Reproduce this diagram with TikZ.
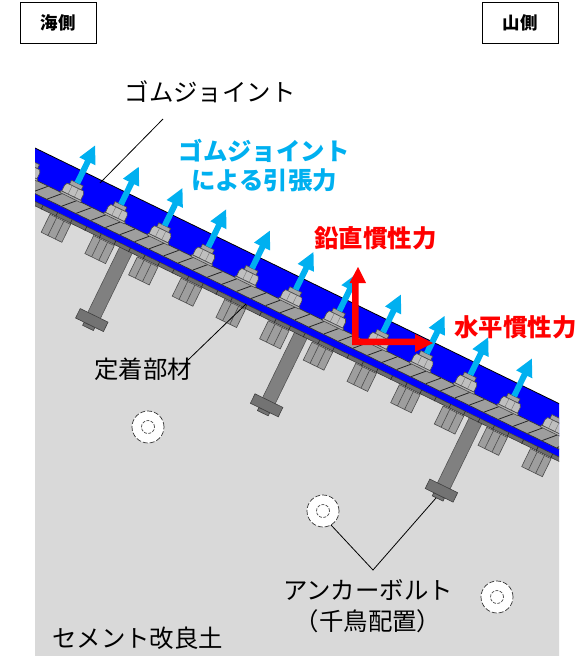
\documentclass[tikz,border=0pt]{standalone}
\usepackage{fontspec}
\setmainfont{Noto Sans CJK JP}
\usetikzlibrary{arrows.meta}
\definecolor{cyanarrow}{HTML}{00B0F0}
\definecolor{soil}{HTML}{D9D9D9}
\tikzset{
  bigtext/.style={font=\fontsize{24.4}{28}\selectfont,inner sep=0pt,text=black,align=center},
  boldcyan/.style={font=\bfseries\fontsize{24.4}{29}\selectfont,inner sep=0pt,text=cyanarrow,align=center},
  boldred/.style={font=\bfseries\fontsize{24.4}{29}\selectfont,inner sep=0pt,text=red},
  sidebox/.style={draw=black,line width=1pt,fill=white,minimum width=76pt,minimum height=41pt,inner sep=0pt,font=\bfseries\fontsize{17.5}{20}\selectfont},
  leader/.style={draw=black,line width=0.8pt},
  steel/.style={draw=black!70,line width=0.6pt,fill=black!38},
  shaft/.style={draw=black!70,line width=0.5pt,fill=black!50},
  headplate/.style={draw=black!75,line width=0.6pt,fill=black!55},
  hole/.style={draw=black!80,line width=0.7pt,dash pattern=on 5pt off 2pt,fill=white}
}
\begin{document}
\begin{tikzpicture}[x=1pt,y=-1pt]
\useasboundingbox (0,0) rectangle (584,656);
\begin{scope}
\clip (35,0) rectangle (559,656);
\begin{scope}[shift={(35,148)},rotate=-26]
  % soil
  \fill[soil] (-100,50) rectangle (900,800);
  % headed studs under the plate
  \foreach \k in {0,...,11}{
    \pgfmathsetmacro{\s}{54+48.6*\k}
    \begin{scope}[shift={(\s,0)}]
      \draw[steel] (-11.5,53) rectangle (11.5,73);
      \draw[draw=black!70,line width=0.6pt] (-4,53) -- (-4,73) (4,53) -- (4,73);
    \end{scope}
  }
  % anchor bolts
  \foreach \s in {126.5,321,515.5}{
    \begin{scope}[shift={(\s,0)}]
      \draw[shaft] (-7,50) rectangle (7,125);
      \draw[headplate] (-6,135) rectangle (6,138.5);
      \draw[headplate] (-15.5,124.5) rectangle (15.5,135);
    \end{scope}
  }
  % blue covers
  \fill[blue] (-100,0) rectangle (900,30);
  \draw[black,line width=0.8pt] (-100,0) -- (900,0);
  \fill[blue] (-100,40) rectangle (900,48);
  % base plate
  \draw[draw=black!80,line width=0.5pt,fill=black!58] (-100,48) rectangle (900,52);
  \foreach \i in {-8,...,70}{
    \draw[black!85,line width=0.6pt] ({\i*16.2},48) -- ({\i*16.2},52.5);
  }
  % rubber joint band
  \draw[draw=black!80,line width=0.7pt,fill=black!38] (-100,28.5) rectangle (900,41);
  \foreach \i in {-4,...,46}{
    \draw[black!85,line width=0.8pt] ({\i*16.2+1},40.5) -- ({\i*16.2+12},29);
  }
  % nuts
  \foreach \k in {-1,...,11}{
    \pgfmathsetmacro{\s}{53.4+48.6*\k}
    \begin{scope}[shift={(\s,0)}]
      \draw[steel,fill=black!35] (-6.5,13) rectangle (6.5,17.5);
      \draw[steel,fill=black!25] (-9,17.5) -- (9,17.5) -- (10.5,20.5) -- (10.5,27) -- (-10.5,27) -- (-10.5,20.5) -- cycle;
      \draw[black!55,line width=0.4pt] (-3.5,17.5) -- (-3.5,27) (3.5,17.5) -- (3.5,27);
      \draw[steel,fill=black!30] (-11.5,27) rectangle (11.5,29);
    \end{scope}
  }
  % tensile arrows
  \foreach \k in {0,...,10}{
    \pgfmathsetmacro{\s}{53.4+48.6*\k}
    \fill[cyanarrow,shift={(\s,0)}] (-3,13) -- (-3,-11) -- (-9.5,-11) -- (-0.5,-28.5) -- (8.5,-11) -- (3,-11) -- (3,13) -- cycle;
  }
\end{scope}
\end{scope}
% anchor holes
\foreach \n/\x/\y in {a/148/427,b/323/511,c/497/597}{
  \node[hole,circle,minimum size=32pt,inner sep=0pt] (hole\n) at (\x,\y) {};
  \node[hole,circle,minimum size=13pt,inner sep=0pt,dash pattern=on 3pt off 1.4pt,draw=black!70] (inner\n) at (\x,\y) {};
}
% inertia arrows
\coordinate (redorigin) at (355,341);
\coordinate (redup) at (358,267);
\coordinate (redright) at (433,343);
\fill[red] (352,345) -- (352,283) -- (349.5,283) -- (358,267) -- (366,283) -- (358.5,283) -- (358.5,338.5) -- (415,338.5) -- (415,334) -- (433,343) -- (415,352) -- (415,345) -- cycle;
% leaders
\coordinate (l1a) at (163,119);
\coordinate (l1b) at (100,183);
\coordinate (l2a) at (188,360);
\coordinate (l2b) at (246,304);
\coordinate (l3) at (373,570);
\coordinate (l3a) at (331,525);
\coordinate (l3b) at (436,498);
\draw[leader] (l1a) -- (l1b);
\draw[leader] (l2a) -- (l2b);
\draw[leader] (l3a) -- (l3) -- (l3b);
% labels
\node[sidebox] (umi) at (58,22.5) {海側};
\node[sidebox] (yama) at (520,22.5) {山側};
\node[bigtext] (t1) at (210,92) {ゴムジョイント};
\node[boldcyan] (t2) at (264,166) {ゴムジョイント\\による引張力};
\node[boldred] (t3) at (375.5,238) {鉛直慣性力};
\node[boldred] (t4) at (515.5,327) {水平慣性力};
\node[bigtext] (t5) at (143,369) {定着部材};
\node[bigtext] (t6) at (368,590) {アンカーボルト};
\node[bigtext] (t7) at (368,621) {（千鳥配置）};
\node[bigtext] (t8) at (138,638) {セメント改良土};
\end{tikzpicture}
\end{document}
